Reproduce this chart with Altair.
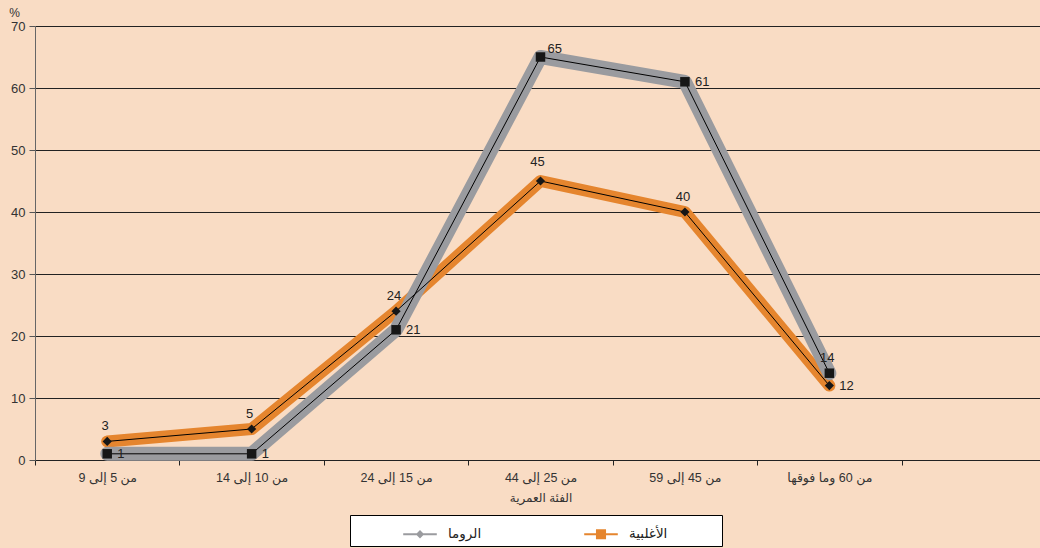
import altair as alt
import pandas as pd

# Age groups (x categories) and share of each population, in %
age_groups = ["من 5 إلى 9", "من 10 إلى 14", "من 15 إلى 24",
              "من 25 إلى 44", "من 45 إلى 59", "من 60 وما فوقها"]
roma = [1, 1, 21, 65, 61, 14]
majority = [3, 5, 24, 45, 40, 12]
series_names = ["الروما", "الأغلبية"]
y_ticks = [0, 10, 20, 30, 40, 50, 60, 70]

# Where each value label sits relative to its point
roma_label_side = ["right", "right", "right", "upright", "right", "above"]
majority_label_side = ["above", "above", "above", "high", "above", "right"]

FONT = "Liberation Sans, Arial, DejaVu Sans, sans-serif"
BG = "#F9DCC4"
GRAY = "#9A9B9F"
ORANGE = "#E5852E"
INK = "#222222"

rows = []
for i, g in enumerate(age_groups):
    rows.append({"group": g, "series": series_names[0], "value": roma[i],
                 "side": roma_label_side[i]})
    rows.append({"group": g, "series": series_names[1], "value": majority[i],
                 "side": majority_label_side[i]})
df = pd.DataFrame(rows)

# one empty band on the right, as on the original axis
x_domain = age_groups + [" "]

x_enc = alt.X(
    "group:N",
    scale=alt.Scale(type="band", domain=x_domain, range=[0, 1011],
                    paddingInner=0, paddingOuter=0),
    axis=alt.Axis(title="الفئة العمرية", labelAngle=0, tickBand="extent",
                  tickSize=5, tickColor="#222", domainColor="#222",
                  labelFontSize=12.5, labelColor="#333", labelPadding=6,
                  titleFontSize=12, titleFontWeight="normal", titleColor="#333",
                  titlePadding=9, grid=False),
)
y_enc = alt.Y(
    "value:Q",
    scale=alt.Scale(domain=[0, 70], nice=False),
    axis=alt.Axis(title="%", titleAngle=0, titleX=-21, titleY=-14,
                  titleAlign="center", titleBaseline="middle",
                  titleFontSize=12, titleFontWeight="normal", titleColor="#333",
                  values=y_ticks, tickSize=6, tickColor="#555",
                  domainColor="#666", labelFontSize=13, labelColor="#333",
                  labelPadding=4, grid=True, gridColor="#222", gridWidth=1),
)

base = alt.Chart(df).encode(x=x_enc, y=y_enc)

orange_band = base.transform_filter(alt.datum.series == series_names[1]).mark_line(
    color=ORANGE, strokeWidth=12, strokeJoin="round", strokeCap="round")
gray_band = base.transform_filter(alt.datum.series == series_names[0]).mark_line(
    color=GRAY, strokeWidth=14, strokeJoin="round", strokeCap="round")
thin = base.mark_line(color="black", strokeWidth=1).encode(detail="series:N")

squares = base.transform_filter(alt.datum.series == series_names[0]).mark_point(
    shape="square", filled=True, size=90, color="#161616", opacity=1)
diamonds = base.transform_filter(alt.datum.series == series_names[1]).mark_point(
    shape="diamond", filled=True, size=85, color="#161616", opacity=1)


def value_labels(side, dx, dy, align, baseline):
    return base.transform_filter(alt.datum.side == side).mark_text(
        dx=dx, dy=dy, align=align, baseline=baseline,
        fontSize=13, color=INK, font=FONT).encode(text="value:Q")


labels = [
    value_labels("right", 10, 0, "left", "middle"),
    value_labels("upright", 7, -8, "left", "middle"),
    value_labels("above", -2, -11, "center", "alphabetic"),
    value_labels("high", -3, -15, "center", "alphabetic"),
]

# legend: a line with its marker, drawn as custom symbol paths
diamond_path = "M-1.2,-0.07H1.2V0.07H-1.2Z M0,-0.3L0.3,0L0,0.3L-0.3,0Z"
square_path = "M-1.2,-0.07H1.2V0.07H-1.2Z M-0.36,-0.36H0.36V0.36H-0.36Z"

legend_layer = alt.Chart(df).transform_filter("false").mark_point(
    filled=True, opacity=1).encode(
    color=alt.Color("series:N", title="\u2003",
                    scale=alt.Scale(domain=series_names, range=[GRAY, ORANGE])),
    shape=alt.Shape("series:N", title="\u2003",
                    scale=alt.Scale(domain=series_names,
                                    range=[diamond_path, square_path])),
)

chart = alt.layer(
    orange_band, gray_band, thin, squares, diamonds, *labels, legend_layer
).properties(
    width=1005,
    height=434,
    autosize=alt.AutoSizeParams(type="none"),
    padding={"left": 35, "top": 26, "right": 0, "bottom": 88},
    background=BG,
).configure_view(
    stroke=None
).configure_axis(
    labelFont=FONT, titleFont=FONT
).configure_legend(
    orient="none", legendX=315, legendY=489, direction="horizontal",
    fillColor="white", strokeColor="black", padding=5,
    symbolSize=784, symbolOffset=51, symbolStrokeWidth=0,
    labelOffset=14, columnPadding=54,
    labelFont=FONT, labelFontSize=13.5, labelColor=INK,
    titleOrient="right", titlePadding=50, titleFont=FONT,
)

chart.save("out.html", embed_options={"renderer": "svg", "actions": False})
